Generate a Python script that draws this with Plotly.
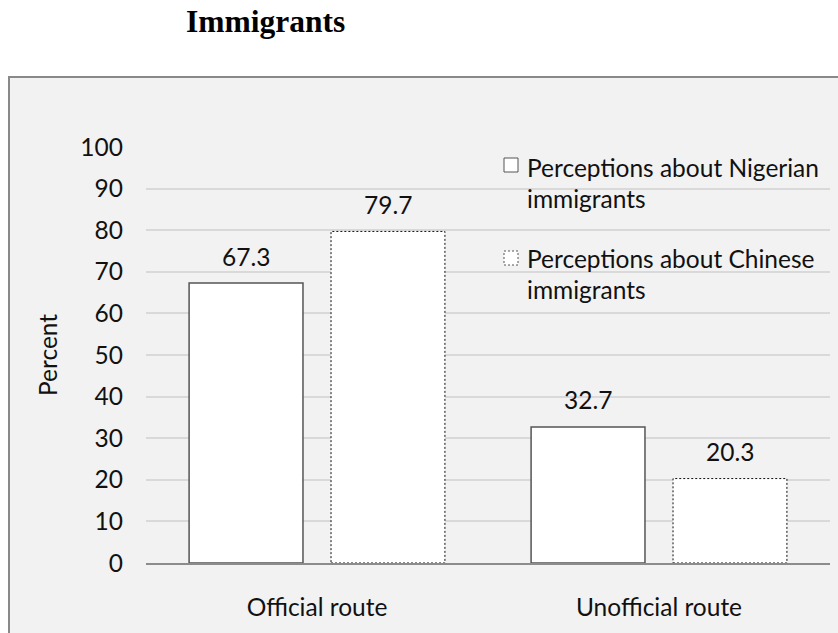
"""Bar chart: perceptions about Nigerian and Chinese immigrants by route."""

import plotly.graph_objects as go

W, H = 838, 633

categories = ["Official route", "Unofficial route"]
nigerian = [67.3, 32.7]
chinese = [79.7, 20.3]
y_ticks = list(range(0, 101, 10))
legend_labels = [
    ("Perceptions about Nigerian", "immigrants"),
    ("Perceptions about Chinese", "immigrants"),
]

FONT = "Lato, Calibri, sans-serif"
FS = 24.5
TEXT = "#111111"
GRID = "#d9d9d9"
BAR_W = 0.333
OFFSETS = [-0.374, 0.041]

x_pos = list(range(len(categories)))


def px(x, y):
    """Page pixel position -> paper coordinates."""
    return x / W, 1 - y / H


fig = go.Figure()
fig.add_trace(go.Bar(
    x=x_pos, y=nigerian, width=BAR_W, offset=OFFSETS[0],
    marker=dict(color="white", line=dict(color="#555555", width=1.5)),
    showlegend=False,
))
fig.add_trace(go.Bar(
    x=x_pos, y=chinese, width=BAR_W, offset=OFFSETS[1],
    marker=dict(color="white", line=dict(width=0)),
    showlegend=False,
))

shapes = []
annotations = []

# chart box behind everything
x0, y1 = px(9, 77)
shapes.append(dict(
    type="rect", xref="paper", yref="paper", layer="below",
    x0=x0, x1=1.05, y0=-0.05, y1=y1,
    fillcolor="#f2f2f2", line=dict(color="#898989", width=2),
))

# dotted outline for the Chinese bars
for xi, v in zip(x_pos, chinese):
    shapes.append(dict(
        type="rect", xref="x", yref="y",
        x0=xi + OFFSETS[1], x1=xi + OFFSETS[1] + BAR_W, y0=0, y1=v,
        line=dict(color="#111111", width=1, dash="2px,2px"),
    ))

# value labels
for series, off in ((nigerian, OFFSETS[0]), (chinese, OFFSETS[1])):
    for xi, v in zip(x_pos, series):
        annotations.append(dict(
            x=xi + off + BAR_W / 2, y=v, xref="x", yref="y",
            text=f"{v:.1f}", showarrow=False, yshift=27,
            xanchor="center", yanchor="middle",
            font=dict(family=FONT, size=FS, color=TEXT),
        ))

# hand-built legend
legend_rows = [(158, 167, 198, "solid"), (251, 258, 290, "2px,2px")]
for (top, l1, l2, dash), (t1, t2) in zip(legend_rows, legend_labels):
    sx0, sy0 = px(504, top)
    sx1, sy1 = px(518, top + 14)
    shapes.append(dict(
        type="rect", xref="paper", yref="paper",
        x0=sx0, x1=sx1, y0=sy1, y1=sy0, fillcolor="white",
        line=dict(color="#555555", width=1, dash=dash),
    ))
    for txt, yy in ((t1, l1), (t2, l2)):
        ax, ay = px(525, yy)
        annotations.append(dict(
            x=ax, y=ay, xref="paper", yref="paper", text=txt,
            showarrow=False, xanchor="left", yanchor="middle",
            font=dict(family=FONT, size=FS, color=TEXT),
        ))

# page title above the chart box
tx, ty = px(265, 22)
annotations.append(dict(
    x=tx, y=ty, xref="paper", yref="paper", text="<b>Immigrants</b>",
    showarrow=False, xanchor="center", yanchor="middle",
    font=dict(family="Liberation Serif, Times New Roman, serif", size=31.5,
              color="#000000"),
))

# y axis title
yx, yy = px(47, 355)
annotations.append(dict(
    x=yx, y=yy, xref="paper", yref="paper", text="Percent",
    showarrow=False, textangle=-90, xanchor="center", yanchor="middle",
    font=dict(family=FONT, size=FS, color=TEXT),
))

dx0, _ = px(146, 0)
dx1, _ = px(830, 0)
_, dy0 = px(0, 563)
_, dy1 = px(0, 147)

fig.update_layout(
    width=W, height=H,
    margin=dict(l=0, r=0, t=0, b=0),
    paper_bgcolor="white",
    plot_bgcolor="rgba(0,0,0,0)",
    font=dict(family=FONT, size=FS, color=TEXT),
    shapes=shapes,
    annotations=annotations,
    showlegend=False,
    xaxis=dict(
        domain=[dx0, dx1],
        range=[-0.5, 1.5],
        tickvals=x_pos, ticktext=categories,
        showgrid=False, zeroline=False,
        showline=True, linecolor="#8c8c8c", linewidth=2,
        ticks="", ticklabelstandoff=22, automargin=False,
    ),
    yaxis=dict(
        domain=[dy0, dy1],
        range=[0, 100],
        tickvals=y_ticks,
        showgrid=True, gridcolor=GRID, gridwidth=1.5,
        zeroline=False, showline=False,
        ticks="", ticklabelstandoff=22, automargin=False,
    ),
)

# drop the default 8px body margin so the figure sits at the page corner
fig.write_html(
    "out.html",
    config={"displayModeBar": False},
    post_script="document.body.style.margin = '0';",
)
